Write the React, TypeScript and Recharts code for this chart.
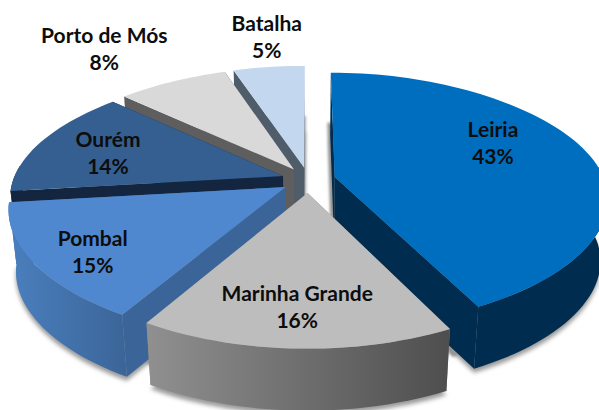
import { Pie, PieChart } from "recharts";

// slices in paint order: back ones first, Marinha Grande on top of its neighbours
const categories = ["Leiria", "Batalha", "Porto de Mós", "Ourém", "Pombal", "Marinha Grande"];
const shares = [42.6, 5.2, 7.9, 13.8, 14.6, 15.9];

const chartData = categories.map((name, i) => ({ name, value: shares[i] }));

interface SliceStyle {
  top: string;
  cut: string;
  wallFrom: string;
  wallTo: string;
  labelDx: number;
  labelDy: number;
}

const STYLES: Record<string, SliceStyle> = {
  Leiria: { top: "#006EBE", cut: "#002D4F", wallFrom: "#002D4F", wallTo: "#002D4F", labelDx: 6, labelDy: -17 },
  Batalha: { top: "#C3D7EE", cut: "#4F5C6A", wallFrom: "#4F5C6A", wallTo: "#4F5C6A", labelDx: -15, labelDy: -66 },
  "Porto de Mós": { top: "#D9D9D9", cut: "#5E5E5E", wallFrom: "#5E5E5E", wallTo: "#5E5E5E", labelDx: -113, labelDy: -64 },
  "Ourém": { top: "#355F91", cut: "#14263F", wallFrom: "#14263F", wallTo: "#14263F", labelDx: -28, labelDy: 0 },
  Pombal: { top: "#5088D0", cut: "#3B6598", wallFrom: "#4A7FBE", wallTo: "#3B6598", labelDx: -48, labelDy: 22 },
  "Marinha Grande": { top: "#BDBDBD", cut: "#8A8A8A", wallFrom: "#909090", wallTo: "#4E4E4E", labelDx: -4, labelDy: 29 },
};

const WIDTH = 599;
const HEIGHT = 410;
const CX = 308.5;
const CY = 180;
const RADIUS = 262;
const EXPLODE = 27;
const TILT = 123.5;
const PERSPECTIVE = 5.74;
const SIDE_BULGE = 0.03;
const DEPTH = 62;
const BOTTOM_SCALE = 0.975;

type Point = [number, number];

const rad = (deg: number) => (deg * Math.PI) / 180;

// theta is clockwise from the back of the disc, r is in px on the disc
const project = (theta: number, r: number, mid: number): Point => {
  const s = Math.sin(rad(theta));
  const u = r * s * (1 + SIDE_BULGE * Math.abs(s) ** 3) + EXPLODE * Math.sin(rad(mid));
  const w = -r * Math.cos(rad(theta)) - EXPLODE * Math.cos(rad(mid));
  const f = PERSPECTIVE / (PERSPECTIVE - w / RADIUS);
  return [CX + u * f, CY + (TILT * w * f) / RADIUS];
};

const lower = ([x, y]: Point, drop = DEPTH, scale = BOTTOM_SCALE): Point => [
  CX + (x - CX) * scale,
  y + drop,
];

const toPath = (pts: Point[]) =>
  "M" + pts.map(([x, y]) => `${x.toFixed(1)},${y.toFixed(1)}`).join("L") + "Z";

const sliceAngles = (props: any) => {
  const from = 90 - props.endAngle;
  const to = 90 - props.startAngle;
  return { from, to, mid: (from + to) / 2 };
};

const arcOf = (from: number, to: number, mid: number) => {
  const steps = Math.max(4, Math.ceil((to - from) / 2));
  const pts: Point[] = [];
  for (let i = 0; i <= steps; i++) {
    pts.push(project(from + ((to - from) * i) / steps, RADIUS, mid));
  }
  return pts;
};

// only the part of the rim that faces the viewer gets an outer wall
const frontArcOf = (from: number, to: number, mid: number) => {
  const a = ((from % 360) + 360) % 360;
  const b = a + (to - from);
  const lo = Math.max(a, 85);
  const hi = Math.min(b, 275);
  if (hi <= lo) return [];
  return arcOf(lo, hi, mid - (a - from));
};

function ShadowShape(props: any) {
  const { from, to, mid } = sliceAngles(props);
  const apex = project(0, 0, mid);
  const arc = arcOf(from, to, mid);
  const face = [apex, ...arc];
  return (
    <g>
      <path
        d={toPath(face.map((p) => lower(p, 50, 0.85)))}
        fill="#8a8a8a"
        style={{ filter: "blur(1.5px)" }}
      />
      <path
        d={toPath(face.map((p) => lower(p, DEPTH + 4)))}
        fill="#9a9a9a"
        style={{ filter: "blur(2px)" }}
      />
    </g>
  );
}

function SliceShape(props: any) {
  const { from, to, mid } = sliceAngles(props);
  const style = STYLES[props.name ?? props.payload?.name];
  const apex = project(0, 0, mid);
  const arc = arcOf(from, to, mid);
  const front = frontArcOf(from, to, mid);
  const first = arc[0];
  const last = arc[arc.length - 1];
  const wallId = `wall-${props.index ?? Math.round(mid)}`;

  return (
    <g>
      <defs>
        <linearGradient id={wallId} x1="0" y1="0" x2="1" y2="0">
          <stop offset="0%" stopColor={style.wallFrom} />
          <stop offset="100%" stopColor={style.wallTo} />
        </linearGradient>
      </defs>
      <path d={toPath([apex, first, lower(first), lower(apex)])} fill={style.cut} />
      <path d={toPath([apex, last, lower(last), lower(apex)])} fill={style.cut} />
      {front.length > 0 && (
        <path
          d={toPath([...front, ...front.map((p) => lower(p)).reverse()])}
          fill={`url(#${wallId})`}
        />
      )}
      <path d={toPath([apex, ...arc])} fill={style.top} />
    </g>
  );
}

function SliceLabel(props: any) {
  const style = STYLES[props.name];
  const mid = 90 - props.midAngle;
  const [x, y] = project(mid, RADIUS * 0.6, mid);
  const lx = x + style.labelDx;
  const ly = y + style.labelDy;
  return (
    <text
      x={lx}
      y={ly}
      textAnchor="middle"
      fontFamily="Lato, sans-serif"
      fontWeight={700}
      fontSize={21}
      fill="#0d0d0d"
    >
      <tspan x={lx} y={ly - 7}>
        {props.name}
      </tspan>
      <tspan x={lx} y={ly + 20}>
        {Math.round(props.percent * 100)}%
      </tspan>
    </text>
  );
}

const leiriaSweep = (360 * shares[0]) / shares.reduce((a, b) => a + b, 0);
const START_ANGLE = 90 - leiriaSweep;

export default function App() {
  return (
    <div style={{ position: "absolute", left: 0, top: 0, width: WIDTH, height: HEIGHT, background: "#fff" }}>
      <PieChart width={WIDTH} height={HEIGHT} margin={{ top: 0, right: 0, bottom: 0, left: 0 }}>
        <Pie
          data={chartData}
          dataKey="value"
          nameKey="name"
          cx={CX}
          cy={CY}
          outerRadius={RADIUS}
          startAngle={START_ANGLE}
          endAngle={START_ANGLE + 360}
          stroke="none"
          isAnimationActive={false}
          shape={ShadowShape}
        />
        <Pie
          data={chartData}
          dataKey="value"
          nameKey="name"
          cx={CX}
          cy={CY}
          outerRadius={RADIUS}
          startAngle={START_ANGLE}
          endAngle={START_ANGLE + 360}
          stroke="none"
          isAnimationActive={false}
          shape={SliceShape}
          label={SliceLabel}
          labelLine={false}
        />
      </PieChart>
    </div>
  );
}
